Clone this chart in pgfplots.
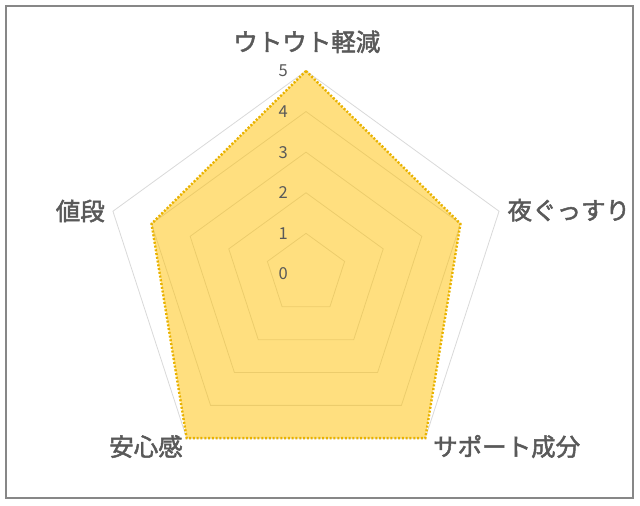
\documentclass[border=0pt]{standalone}
\usepackage{fontspec}
\setmainfont{Noto Sans CJK JP}
\newfontfamily\catfont[FakeBold=2]{Noto Sans CJK JP}
\usepackage{pgfplots}
\pgfplotsset{compat=1.18}

\definecolor{labelgray}{HTML}{595959}
\definecolor{gridgray}{HTML}{D9D9D9}
\definecolor{framegray}{HTML}{878787}
\definecolor{fillgold}{HTML}{FFC000}
\definecolor{edgegold}{HTML}{E9B200}

\begin{document}
\begin{tikzpicture}
\begin{axis}[
    width=640pt, height=506pt,
    scale only axis,
    hide axis,
    clip=false,
    xmin=-7.537, xmax=8.227,
    ymin=-5.715, ymax=6.748,
]
    % keep the whole 640x506 area in the picture
    \path (rel axis cs:0,0) rectangle (rel axis cs:1,1);
    % chart area frame
    \draw[framegray, line width=1.6pt]
        (rel axis cs:0.0094,0.0158) rectangle (rel axis cs:0.989,0.988);

    % pentagon grid
    \addplot[data cs=polar, gridgray, line width=0.8pt] coordinates {(90,1) (18,1) (-54,1) (-126,1) (162,1)} -- cycle;
    \addplot[data cs=polar, gridgray, line width=0.8pt] coordinates {(90,2) (18,2) (-54,2) (-126,2) (162,2)} -- cycle;
    \addplot[data cs=polar, gridgray, line width=0.8pt] coordinates {(90,3) (18,3) (-54,3) (-126,3) (162,3)} -- cycle;
    \addplot[data cs=polar, gridgray, line width=0.8pt] coordinates {(90,4) (18,4) (-54,4) (-126,4) (162,4)} -- cycle;
    \addplot[data cs=polar, gridgray, line width=0.8pt] coordinates {(90,5) (18,5) (-54,5) (-126,5) (162,5)} -- cycle;

    % data
    \addplot[data cs=polar, fill=fillgold, fill opacity=0.5, draw=edgegold,
        line width=2.4pt, dash pattern=on 2pt off 1.8pt]
        coordinates {(90,5) (18,4) (-54,5) (-126,5) (162,4)} -- cycle;

    % scale labels
    \foreach \k in {0,...,5} {
        \edef\tmp{\noexpand\node[labelgray, font=\noexpand\fontsize{16.5}{18}\noexpand\selectfont]
            at (axis cs:-0.56,\k) {\k};}
        \tmp
    }

    % category labels
    \tikzset{cat/.style={labelgray, font=\fontsize{24.5}{28}\selectfont\catfont, inner sep=0pt}}
    \node[cat] at (axis cs:0.02,5.72) {ウトウト軽減};
    \node[cat, anchor=west] at (axis cs:4.96,1.57) {夜ぐっすり};
    \node[cat, anchor=west] at (axis cs:3.128,-4.25) {サポート成分};
    \node[cat, anchor=east] at (axis cs:-3.03,-4.25) {安心感};
    \node[cat, anchor=east] at (axis cs:-4.95,1.55) {値段};
\end{axis}
\end{tikzpicture}
\end{document}
